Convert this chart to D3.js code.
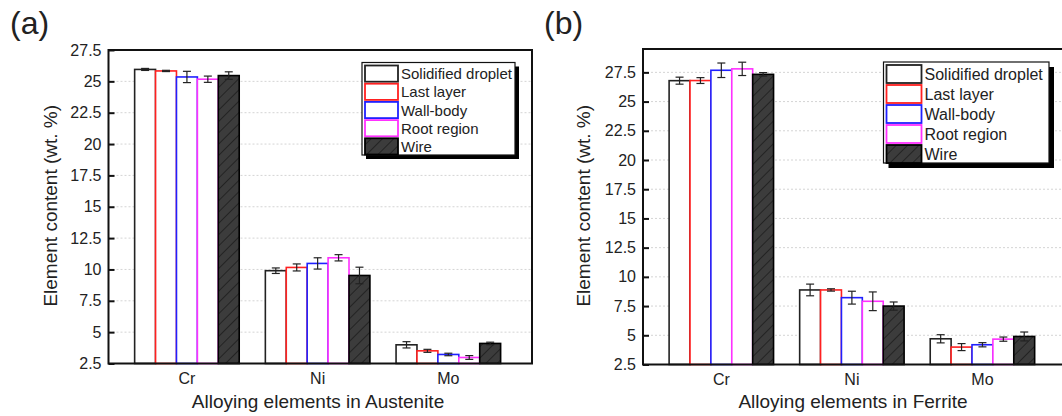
<!doctype html>
<html lang="en">
  <head>
    <meta charset="UTF-8">
    <title>Element content</title>
    <style>
      body { margin: 0; background: #fff; }
      svg { display: block; }
      text { font-family: Arial, "Liberation Sans", sans-serif; fill: #222; }
      .grid line { stroke: #d4d4d4; stroke-width: 1; stroke-dasharray: 2,2; }
    </style>
  </head>
  <body>
    <svg width="1062" height="416"></svg>
    <script src="https://d3js.org/d3.v7.min.js"></script>
    <script>
      var elements = ["Cr", "Ni", "Mo"];
      var series = ["Solidified droplet", "Last layer", "Wall-body", "Root region", "Wire"];
      var colors = ["#222", "#ff2020", "#2020ff", "#ff30ff", "#222"];

      // (a) austenite
      var austVals = [
        [25.95, 25.83, 25.35, 25.17, 25.46],
        [9.9, 10.16, 10.48, 10.93, 9.52],
        [3.99, 3.51, 3.22, 2.98, 4.1]
      ];
      var austErr = [
        [0.08, 0.05, 0.45, 0.25, 0.3],
        [0.22, 0.28, 0.45, 0.25, 0.66],
        [0.25, 0.12, 0.1, 0.15, 0.1]
      ];
      var austTicks = [2.5, 5, 7.5, 10, 12.5, 15, 17.5, 20, 22.5, 25, 27.5];

      // (b) ferrite
      var ferrVals = [
        [26.79, 26.8, 27.68, 27.8, 27.33],
        [8.88, 8.88, 8.22, 7.91, 7.5],
        [4.7, 3.99, 4.19, 4.67, 4.9]
      ];
      var ferrErr = [
        [0.3, 0.25, 0.62, 0.57, 0.15],
        [0.5, 0.1, 0.55, 0.8, 0.35],
        [0.35, 0.3, 0.18, 0.18, 0.38]
      ];
      var ferrTicks = [2.5, 5, 7.5, 10, 12.5, 15, 17.5, 20, 22.5, 25, 27.5];

      var svg = d3.select("svg");

      // hatch pattern for the wire bars
      var defs = svg.append("defs");
      var pat = defs.append("pattern")
              .attr("id", "hatch")
              .attr("patternUnits", "userSpaceOnUse")
              .attr("width", 8).attr("height", 8)
              .attr("patternTransform", "rotate(45)");
      pat.append("rect").attr("width", 8).attr("height", 8).attr("fill", "#3c3c3c");
      pat.append("line").attr("x1", 0).attr("y1", 0).attr("x2", 0).attr("y2", 8)
              .attr("stroke", "#1a1a1a").attr("stroke-width", 1.5);

      function draw(p) {
        var g = svg.append("g");
        var x = d3.scaleLinear().domain([0.4, 3.64]).range([p.left, p.right]);
        var y = d3.scaleLinear().domain(p.ydom).range([p.bottom, p.top]);
        var bw = x(0.16) - x(0);

        // grid
        g.append("g").attr("class", "grid")
                .selectAll("line")
                .data(p.ticks.filter(function (t) { return t > p.ydom[0]; }))
                .enter().append("line")
                .attr("x1", p.left).attr("x2", p.right)
                .attr("y1", function (d) { return y(d); })
                .attr("y2", function (d) { return y(d); });

        // bars
        p.vals.forEach(function (row, i) {
          row.forEach(function (v, j) {
            var x0 = x(i + 1) - 2.5 * bw + j * bw;
            var wire = j === 4;
            g.append("rect")
                    .attr("x", x0).attr("width", bw)
                    .attr("y", y(v)).attr("height", y(p.ydom[0]) - y(v))
                    .attr("fill", wire ? "url(#hatch)" : "#fff")
                    .attr("stroke", wire ? "#000" : colors[j])
                    .attr("stroke-width", 1.6);
            var e = p.err[i][j], cx = x0 + bw / 2;
            var eb = g.append("g").attr("stroke", "#222").attr("stroke-width", 1.2);
            eb.append("line").attr("x1", cx).attr("x2", cx).attr("y1", y(v - e)).attr("y2", y(v + e));
            [v - e, v + e].forEach(function (t) {
              eb.append("line").attr("x1", cx - 4).attr("x2", cx + 4).attr("y1", y(t)).attr("y2", y(t));
            });
          });
        });

        // frame
        g.append("rect")
                .attr("x", p.left).attr("y", p.top)
                .attr("width", p.right - p.left).attr("height", p.bottom - p.top)
                .attr("fill", "none").attr("stroke", "#111").attr("stroke-width", 2);

        // y axis
        var yAxis = d3.axisLeft(y).tickValues(p.ticks).tickSize(-6).tickPadding(7)
                .tickFormat(d3.format("~g"));
        var ya = g.append("g").attr("transform", "translate(" + p.left + ",0)").call(yAxis);
        ya.select(".domain").remove();
        ya.selectAll(".tick line").attr("stroke", "#111").attr("stroke-width", 2);
        ya.selectAll(".tick text").style("font-size", "16px").attr("fill", "#222");

        // x labels
        g.selectAll(".xl").data(elements).enter().append("text")
                .attr("x", function (d, i) { return x(i + 1); })
                .attr("y", p.bottom + 20)
                .attr("text-anchor", "middle")
                .style("font-size", "16px")
                .text(function (d) { return d; });

        g.append("text")
                .attr("x", p.xtitleX).attr("y", 408)
                .attr("text-anchor", "middle")
                .style("font-size", "19px")
                .text(p.xtitle);

        g.append("text")
                .attr("transform", "translate(" + p.ytitleX + "," + ((p.top + p.bottom) / 2 - 1) + ") rotate(-90)")
                .attr("text-anchor", "middle")
                .style("font-size", "19px")
                .text("Element content (wt. %)");

        g.append("text")
                .attr("x", p.labelX).attr("y", 34)
                .style("font-size", "32px")
                .text(p.label);

        // legend
        var L = p.legend;
        g.append("rect")
                .attr("x", L.x + L.sh).attr("y", L.y + L.sh)
                .attr("width", L.w).attr("height", L.h)
                .attr("fill", "#000");
        g.append("rect")
                .attr("x", L.x).attr("y", L.y)
                .attr("width", L.w).attr("height", L.h)
                .attr("fill", "#fff").attr("stroke", "#111").attr("stroke-width", 1.2);
        series.forEach(function (s, j) {
          var ry = L.y + 2 + j * L.row;
          g.append("rect")
                  .attr("x", L.x + 3).attr("y", ry + 1)
                  .attr("width", L.sw).attr("height", L.row - 2)
                  .attr("fill", j === 4 ? "url(#hatch)" : "#fff")
                  .attr("stroke", j === 4 ? "#000" : colors[j])
                  .attr("stroke-width", 1.8);
          g.append("text")
                  .attr("x", L.x + L.sw + 6).attr("y", ry + L.row / 2 + 5.5)
                  .style("font-size", L.fs + "px")
                  .text(s);
        });
      }

      draw({
        left: 108.5, right: 532, top: 50, bottom: 363.5,
        ydom: [2.5, 27.5], ticks: austTicks,
        vals: austVals, err: austErr,
        xtitle: "Alloying elements in Austenite", xtitleX: 318,
        ytitleX: 57, label: "(a)", labelX: 10,
        legend: { x: 362, y: 62.5, w: 153, h: 92.5, row: 18.2, sw: 33, fs: 15, sh: 4 }
      });

      draw({
        left: 643, right: 1066, top: 49, bottom: 364.5,
        ydom: [2.5, 29.5], ticks: ferrTicks,
        vals: ferrVals, err: ferrErr,
        xtitle: "Alloying elements in Ferrite", xtitleX: 853,
        ytitleX: 590, label: "(b)", labelX: 544,
        legend: { x: 883.5, y: 62, w: 165.5, h: 101, row: 20, sw: 35, fs: 16, sh: 5 }
      });
    </script>
  </body>
</html>
